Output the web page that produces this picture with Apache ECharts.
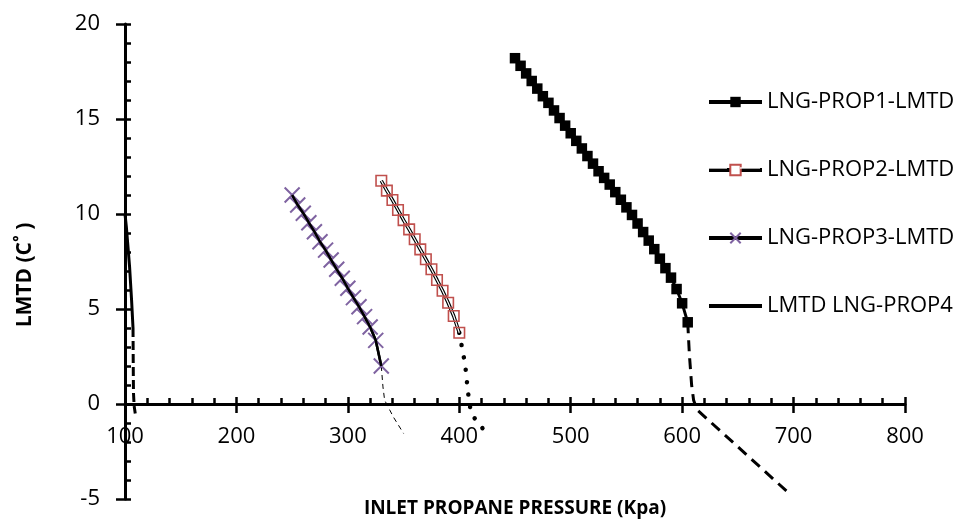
<!DOCTYPE html>
<html>
<head>
<meta charset="utf-8">
<script src="https://cdn.jsdelivr.net/npm/echarts@6/dist/echarts.min.js"></script>
<style>
  html, body { margin: 0; padding: 0; background: #fff; }
  #chart { width: 965px; height: 524px; }
</style>
</head>
<body>
<div id="chart"></div>
<script>
// Inlet propane pressure (kPa) and LMTD (°C) for each LNG/propane case
const prop1Pressure = [450, 455, 460, 465, 470, 475, 480, 485, 490, 495, 500, 505, 510, 515, 520, 525,
                       530, 535, 540, 545, 550, 555, 560, 565, 570, 575, 580, 585, 590, 595, 600, 605];
const prop1Lmtd = [18.2, 17.8, 17.4, 17.0, 16.6, 16.2, 15.85, 15.45, 15.05, 14.65, 14.25, 13.85, 13.45, 13.05, 12.65, 12.25,
                   11.9, 11.55, 11.15, 10.75, 10.35, 9.95, 9.5, 9.05, 8.6, 8.15, 7.65, 7.15, 6.65, 6.05, 5.3, 4.3];

const prop2Pressure = [330, 335, 340, 345, 350, 355, 360, 365, 370, 375, 380, 385, 390, 395, 400];
const prop2Lmtd = [11.75, 11.23, 10.74, 10.21, 9.68, 9.19, 8.67, 8.14, 7.62, 7.09, 6.53, 5.96, 5.33, 4.63, 3.75];

const prop3Pressure = [250, 255, 260, 265, 270, 275, 280, 285, 290, 295, 300, 305, 310, 315, 320, 325, 330];
const prop3Lmtd = [11.0, 10.47, 10.04, 9.54, 9.07, 8.54, 8.1, 7.58, 7.09, 6.62, 6.09, 5.6, 5.12, 4.6, 4.05, 3.35, 2.0];

const prop4Pressure = [100, 101.2, 104.1, 105.9, 107.2];
const prop4Lmtd = [10.0, 9.33, 7.23, 5.47, 4.0];

// Trend continuations below the last computed point of each case
const trend1Pressure = [605, 606.5, 608.5, 610.3, 613.3, 695];
const trend1Lmtd = [4.3, 2.6, 1.0, 0.2, -0.3, -4.65];
const trend2Pressure = [400, 403.3, 405.4, 406.3, 407.8, 408.6, 411.4, 418, 425];
const trend2Lmtd = [3.75, 2.7, 2.05, 1.42, 0.74, 0.12, -0.58, -1.05, -1.6];
const trend3Pressure = [330, 331.5, 333, 341, 350];
const trend3Lmtd = [2.0, 0.9, 0.2, -0.7, -1.55];
const trend4Pressure = [107.2, 107.4, 107.6, 108.2, 109.2];
const trend4Lmtd = [4.0, 2.0, 0.6, -0.1, -0.5];

// Axis ticks
const xTicks = { min: 100, max: 800, step: 100 };
const yTicks = { min: -5, max: 20, step: 5 };

const seriesNames = ['LNG-PROP1-LMTD', 'LNG-PROP2-LMTD', 'LNG-PROP3-LMTD', 'LMTD LNG-PROP4'];
const xTitle = 'INLET PROPANE PRESSURE (Kpa)';
const yTitle = 'LMTD (C˚ )';

const FONT = '"Open Sans", "Noto Sans", sans-serif';
const zip = (xs, ys) => xs.map((x, i) => [x, ys[i]]);

const chart = echarts.init(document.getElementById('chart'), null, { renderer: 'canvas' });

const tickStyle = { color: '#000', width: 2.5 };
const noSplit = { show: false };

// grid 0 holds the curves; grid 1 ends on the zero line and carries the pressure axis
const option = {
  animation: false,
  backgroundColor: '#fff',
  grid: [
    { left: 125, right: 60, top: 24, bottom: 25, containLabel: false, outerBoundsMode: 'none' },
    { left: 125, right: 60, top: 24, bottom: 120, containLabel: false, outerBoundsMode: 'none' }
  ],
  xAxis: [
    {
      gridIndex: 0, type: 'value', min: xTicks.min, max: xTicks.max, interval: xTicks.step,
      axisLine: { show: false, onZero: false }, axisTick: { show: false }, axisLabel: { show: false },
      splitLine: noSplit
    },
    {
      gridIndex: 1, type: 'value', min: xTicks.min, max: xTicks.max, interval: xTicks.step, position: 'bottom',
      axisLine: { show: true, onZero: false, lineStyle: { color: '#000', width: 3 } },
      axisTick: { show: true, inside: false, length: 9, lineStyle: tickStyle },
      minorTick: { show: false },
      axisLabel: { show: true, margin: 22, fontSize: 22, color: '#000', fontFamily: FONT },
      splitLine: noSplit
    },
    {
      gridIndex: 1, type: 'value', min: xTicks.min, max: xTicks.max, interval: xTicks.step, position: 'bottom',
      axisLine: { show: false, onZero: false },
      axisTick: { show: true, inside: true, length: 7, lineStyle: tickStyle },
      minorTick: { show: true, splitNumber: 5, length: 6, lineStyle: tickStyle },
      axisLabel: { show: false },
      splitLine: noSplit
    }
  ],
  yAxis: [
    {
      gridIndex: 0, type: 'value', min: yTicks.min, max: yTicks.max, interval: yTicks.step, position: 'left',
      axisLine: { show: true, onZero: false, lineStyle: { color: '#000', width: 3 } },
      axisTick: { show: true, inside: false, length: 9, lineStyle: tickStyle },
      minorTick: { show: false },
      axisLabel: { show: true, margin: 25, fontSize: 22, color: '#000', fontFamily: FONT },
      splitLine: noSplit
    },
    {
      gridIndex: 0, type: 'value', min: yTicks.min, max: yTicks.max, interval: yTicks.step, position: 'left',
      axisLine: { show: false, onZero: false },
      axisTick: { show: true, inside: true, length: 6, lineStyle: tickStyle },
      minorTick: { show: true, splitNumber: 5, length: 6, lineStyle: tickStyle },
      axisLabel: { show: false },
      splitLine: noSplit
    },
    {
      gridIndex: 1, type: 'value', min: 0, max: 1, show: false,
      axisLine: { show: false, onZero: false }, axisTick: { show: false }, axisLabel: { show: false },
      splitLine: noSplit
    }
  ],
  legend: {
    orient: 'vertical',
    left: 707, top: 91, padding: 0,
    itemWidth: 53, itemHeight: 13, itemGap: 46,
    selectedMode: false,
    textStyle: { fontSize: 22, lineHeight: 22, color: '#000', fontFamily: FONT },
    data: [
      { name: seriesNames[0], lineStyle: { width: 4, color: '#000', opacity: 1 } },
      { name: seriesNames[1], lineStyle: { width: 4, color: '#000', opacity: 1, type: 'solid' }, itemStyle: { color: '#fff' } },
      { name: seriesNames[2], lineStyle: { width: 4, color: '#000', opacity: 1 } },
      { name: seriesNames[3], lineStyle: { width: 4, color: '#000', opacity: 1 }, itemStyle: { opacity: 0 } }
    ]
  },
  graphic: [
    { type: 'text', x: 515, y: 509, z: 50,
      style: { text: xTitle, font: 'bold 19px ' + FONT, fill: '#000', align: 'center', verticalAlign: 'middle' } },
    { type: 'text', x: 25, y: 275, rotation: Math.PI / 2, z: 50,
      style: { text: yTitle, font: 'bold 21px ' + FONT, fill: '#000', align: 'center', verticalAlign: 'middle' } },
    // white core of the double line in the PROP2 legend key
    { type: 'line', z: 100, shape: { x1: 707, y1: 168, x2: 727, y2: 168 }, style: { stroke: '#fff', lineWidth: 1.3 } },
    { type: 'line', z: 100, shape: { x1: 740, y1: 168, x2: 760, y2: 168 }, style: { stroke: '#fff', lineWidth: 1.3 } }
  ],
  series: [
    // continuations
    { name: 'PROP1 trend', type: 'line', data: zip(trend1Pressure, trend1Lmtd), showSymbol: false, symbol: 'none',
      lineStyle: { color: '#000', width: 3, type: [11, 7] }, z: 2 },
    { name: 'PROP2 trend', type: 'line', data: zip(trend2Pressure, trend2Lmtd), showSymbol: false, symbol: 'none',
      lineStyle: { color: '#000', width: 4.5, type: [0.01, 12.5], cap: 'round' }, z: 2 },
    { name: 'PROP3 trend', type: 'line', data: zip(trend3Pressure, trend3Lmtd), showSymbol: false, symbol: 'none',
      lineStyle: { color: '#000', width: 1, type: [5, 4] }, z: 2 },
    { name: 'PROP4 trend', type: 'line', data: zip(trend4Pressure, trend4Lmtd), showSymbol: false, symbol: 'none',
      lineStyle: { color: '#000', width: 3, type: [9, 4] }, z: 2 },

    // case 1: filled black squares
    { name: seriesNames[0], type: 'line', data: zip(prop1Pressure, prop1Lmtd),
      symbol: 'rect', symbolSize: 10.5, itemStyle: { color: '#000' },
      lineStyle: { color: '#000', width: 3 }, z: 3 },

    // case 2: double line with hollow red squares
    { name: 'PROP2 outer', type: 'line', data: zip(prop2Pressure, prop2Lmtd), symbol: 'none',
      lineStyle: { color: '#000', width: 3.5 }, z: 3 },
    { name: 'PROP2 core', type: 'line', data: zip(prop2Pressure, prop2Lmtd), symbol: 'none',
      lineStyle: { color: '#fff', width: 1.2 }, z: 3 },
    { name: seriesNames[1], type: 'line', data: zip(prop2Pressure, prop2Lmtd),
      symbol: 'rect', symbolSize: 10.5,
      itemStyle: { color: 'rgba(255,255,255,0)', borderColor: '#C0504D', borderWidth: 1.6 },
      lineStyle: { color: '#000', width: 3.5, opacity: 0 }, z: 3 },

    // case 3: purple crosses on a black line
    { name: seriesNames[2], type: 'line', data: zip(prop3Pressure, prop3Lmtd),
      symbol: 'path://M0 0L10 10M10 0L0 10', symbolSize: 15,
      itemStyle: { color: '#7F63A1', borderColor: '#7F63A1', borderWidth: 2 },
      lineStyle: { color: '#000', width: 2.5 }, z: 3 },
    { name: 'PROP3 line', type: 'line', data: zip(prop3Pressure, prop3Lmtd), symbol: 'none',
      lineStyle: { color: '#000', width: 2.5 }, z: 4 },

    // case 4: plain black line
    { name: seriesNames[3], type: 'line', data: zip(prop4Pressure, prop4Lmtd), symbol: 'none',
      lineStyle: { color: '#000', width: 3 }, z: 3 }
  ]
};

chart.setOption(option);
</script>
</body>
</html>
